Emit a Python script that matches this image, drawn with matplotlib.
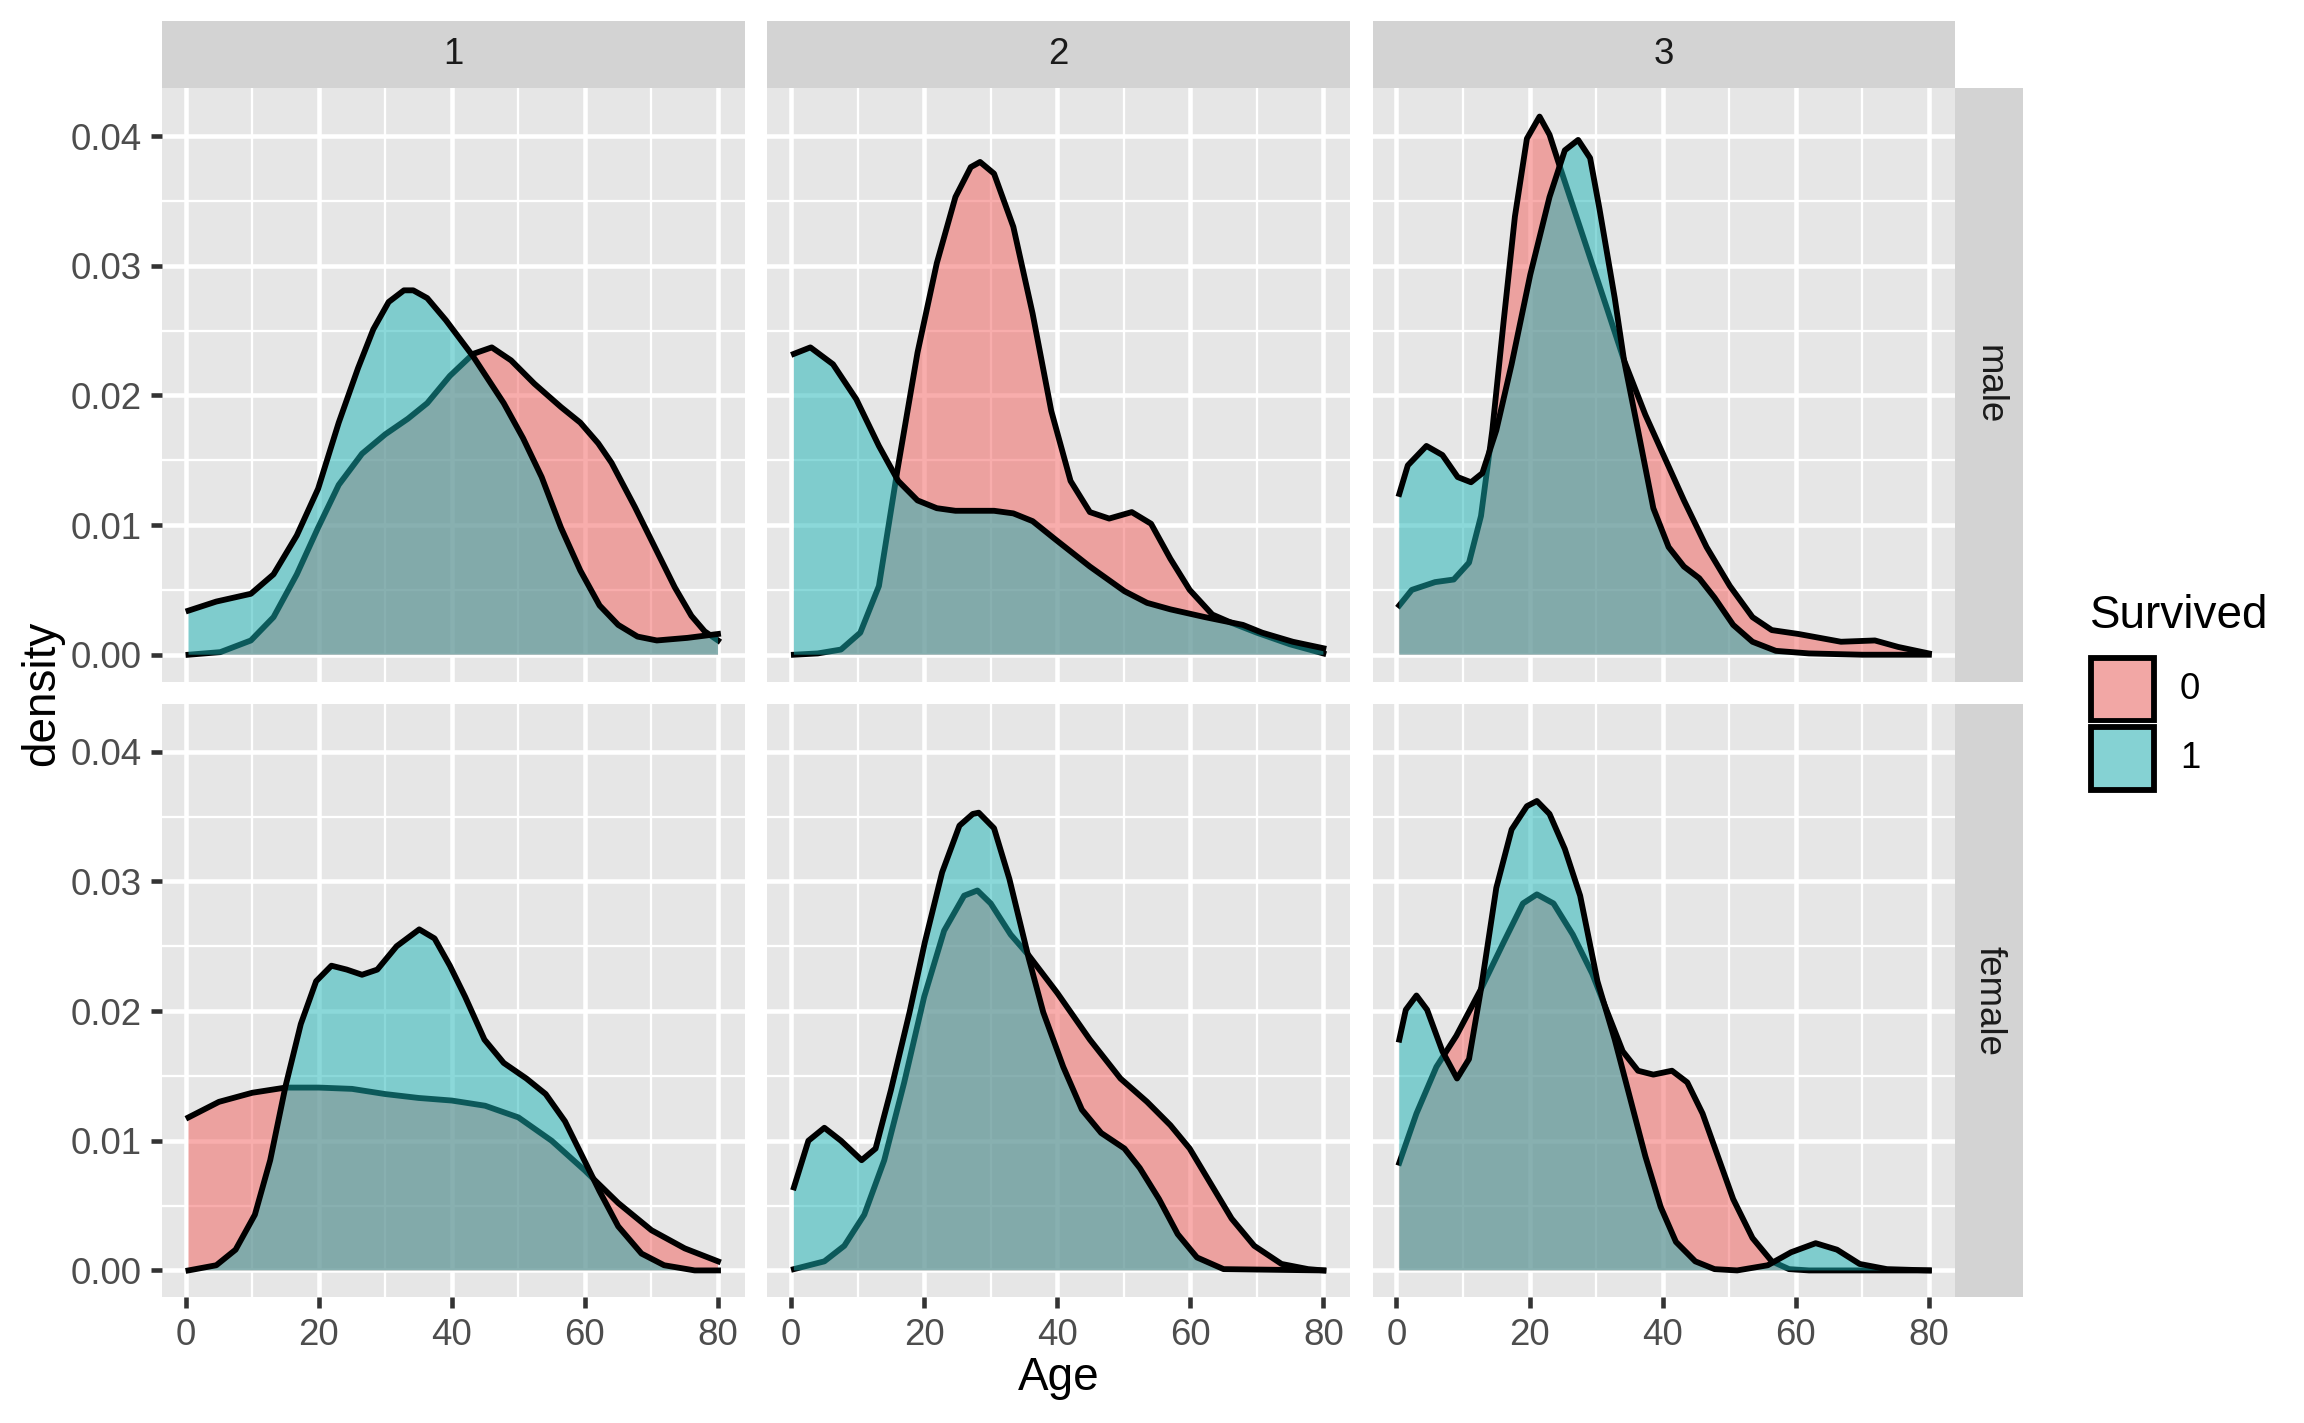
import matplotlib.pyplot as plt
from matplotlib.patches import Rectangle
from matplotlib.ticker import MultipleLocator, FormatStrFormatter

plt.rcParams['font.family'] = ['Liberation Sans', 'DejaVu Sans']

# density curves, (age, density) per class / sex / survived
age_m1_0 = [0.42, 5.2, 9.8, 13.2, 16.7, 19.9, 23, 26.5, 30, 33.4, 36.3, 39.7, 43.2, 46, 48.9, 52.4,
            56.4, 59.3, 62, 64, 67.5, 70.5, 73.5, 76, 78, 80]
den_m1_0 = [0.0000, 0.0002, 0.0011, 0.0029, 0.0062, 0.0098, 0.0131, 0.0155, 0.0170, 0.0182, 0.0194,
            0.0215, 0.0232, 0.0237, 0.0227, 0.0209, 0.0191, 0.0179, 0.0163, 0.0148, 0.0114, 0.0083,
            0.0052, 0.0030, 0.0018, 0.0011]
age_m1_1 = [0.42, 4.6, 9.8, 13.2, 16.7, 19.9, 23, 25.9, 28.2, 30.5, 32.8, 34.2, 36.3, 39.1, 43.2,
            47.8, 50.7, 53.5, 56.4, 59.3, 62.2, 65, 67.9, 70.8, 75.4, 80]
den_m1_1 = [0.0034, 0.0041, 0.0047, 0.0062, 0.0092, 0.0128, 0.0179, 0.0221, 0.0251, 0.0272, 0.0281,
            0.0281, 0.0275, 0.0258, 0.0230, 0.0194, 0.0167, 0.0137, 0.0098, 0.0065, 0.0038, 0.0023,
            0.0014, 0.0011, 0.0013, 0.0016]

age_m2_0 = [0.42, 4, 7.5, 10.4, 13.2, 16, 19, 21.9, 24.7, 27, 28.4, 30.5, 33.4, 36.3, 39.1, 42, 44.9,
            47.8, 51.2, 54.1, 57, 59.9, 63.3, 66, 70, 75, 80]
den_m2_0 = [0.0000, 0.0001, 0.0004, 0.0017, 0.0053, 0.0143, 0.0233, 0.0302, 0.0353, 0.0376, 0.0380,
            0.0371, 0.0330, 0.0263, 0.0188, 0.0134, 0.0110, 0.0105, 0.0110, 0.0101, 0.0074, 0.0050,
            0.0031, 0.0025, 0.0017, 0.0008, 0.0001]
age_m2_1 = [0.42, 2.9, 6.3, 9.8, 13.2, 16.1, 19, 21.9, 24.7, 30.5, 33.4, 36.3, 39.7, 44.9, 50.1, 53.5,
            57, 62.2, 67.9, 70.8, 75.4, 80]
den_m2_1 = [0.0232, 0.0237, 0.0224, 0.0197, 0.0161, 0.0134, 0.0119, 0.0113, 0.0111, 0.0111, 0.0109,
            0.0103, 0.0089, 0.0068, 0.0049, 0.0040, 0.0035, 0.0029, 0.0023, 0.0017, 0.0010, 0.0005]

age_m3_0 = [0.42, 2.3, 5.8, 8.6, 10.9, 12.7, 14.4, 16.1, 17.8, 19.6, 21.5, 23, 24.7, 28.2, 31.7, 34.2,
            37.4, 40.3, 43.2, 46.6, 50.1, 53.5, 56.4, 60.4, 66.8, 71.9, 75.4, 80]
den_m3_0 = [0.0038, 0.0050, 0.0056, 0.0058, 0.0071, 0.0107, 0.0173, 0.0257, 0.0338, 0.0398, 0.0415,
            0.0401, 0.0374, 0.0320, 0.0266, 0.0227, 0.0185, 0.0152, 0.0119, 0.0083, 0.0053, 0.0029,
            0.0019, 0.0016, 0.0010, 0.0011, 0.0006, 0.0001]
age_m3_1 = [0.42, 1.7, 4.5, 6.9, 9.2, 11.2, 12.9, 15, 17.3, 20.1, 23, 25.3, 27.3, 29.1, 30.5, 32.8,
            34.2, 36.3, 38.6, 40.9, 43.2, 45.5, 47.8, 50.6, 53.5, 57, 62, 70, 80]
den_m3_1 = [0.0124, 0.0146, 0.0161, 0.0154, 0.0137, 0.0133, 0.0140, 0.0173, 0.0224, 0.0293, 0.0353,
            0.0389, 0.0397, 0.0383, 0.0344, 0.0275, 0.0227, 0.0173, 0.0113, 0.0083, 0.0068, 0.0059,
            0.0044, 0.0023, 0.0010, 0.0003, 0.0001, 0.0000, 0.0000]

age_f1_0 = [0.42, 5, 10, 15, 20, 25, 30, 35, 40, 45, 50, 55, 60, 65, 70, 75, 80]
den_f1_0 = [0.0118, 0.0130, 0.0137, 0.0141, 0.0141, 0.0140, 0.0136, 0.0133, 0.0131, 0.0127, 0.0118,
            0.0100, 0.0077, 0.0052, 0.0031, 0.0017, 0.0007]
age_f1_1 = [0.42, 4.6, 7.5, 10.4, 12.7, 15, 17.3, 19.6, 21.9, 24.2, 26.5, 28.8, 31.7, 35.1, 37.4,
            39.7, 42, 44.9, 47.8, 51.2, 54.1, 57, 59.9, 62.2, 65, 68.5, 71.9, 76.5, 80]
den_f1_1 = [0.0000, 0.0004, 0.0016, 0.0043, 0.0085, 0.0142, 0.0190, 0.0223, 0.0235, 0.0232, 0.0228,
            0.0232, 0.0250, 0.0263, 0.0256, 0.0235, 0.0211, 0.0178, 0.0160, 0.0148, 0.0136, 0.0115,
            0.0085, 0.0061, 0.0034, 0.0013, 0.0004, 0.0000, 0.0000]

age_f2_0 = [0.42, 5, 8, 11, 14, 17, 20, 23, 26, 28, 30, 33, 35.7, 40, 44.9, 49.5, 53.5, 57, 59.9,
            62.7, 66.2, 69.6, 73.7, 77.7, 80]
den_f2_0 = [0.0001, 0.0007, 0.0019, 0.0043, 0.0085, 0.0145, 0.0211, 0.0262, 0.0289, 0.0293, 0.0283,
            0.0259, 0.0243, 0.0214, 0.0178, 0.0148, 0.0130, 0.0112, 0.0094, 0.0070, 0.0040, 0.0019,
            0.0005, 0.0001, 0.0000]
age_f2_1 = [0.42, 2.6, 5, 7.5, 10.6, 12.7, 15, 17.8, 20.1, 22.7, 25.3, 27.3, 28.2, 30.5, 32.8, 35.7,
            37.9, 40.9, 43.7, 46.6, 50.1, 52.4, 55.3, 58.1, 61, 65, 80]
den_f2_1 = [0.0064, 0.0100, 0.0110, 0.0100, 0.0085, 0.0094, 0.0139, 0.0199, 0.0253, 0.0307, 0.0343,
            0.0352, 0.0353, 0.0341, 0.0302, 0.0241, 0.0199, 0.0157, 0.0124, 0.0106, 0.0094, 0.0079,
            0.0055, 0.0028, 0.0010, 0.0001, 0.0000]

age_f3_0 = [0.42, 3, 6, 9, 12.7, 16.1, 19, 21.1, 23.6, 26.5, 29.4, 31.7, 34, 36.3, 38.6, 41.4, 43.7,
            46, 48.3, 50.6, 53.5, 56.4, 59, 62, 80]
den_f3_0 = [0.0083, 0.0121, 0.0157, 0.0181, 0.0217, 0.0253, 0.0283, 0.0290, 0.0283, 0.0259, 0.0229,
            0.0199, 0.0169, 0.0154, 0.0151, 0.0154, 0.0145, 0.0121, 0.0088, 0.0055, 0.0025, 0.0007,
            0.0001, 0.0000, 0.0000]
age_f3_1 = [0.42, 1.4, 3, 4.6, 6.9, 9.1, 10.9, 12.7, 15, 17.3, 19.6, 21.1, 23, 25.3, 27.6, 30.2, 32.8,
            35.1, 37.4, 39.7, 42, 44.9, 47.8, 51.2, 55.8, 59.3, 63, 66.2, 69.6, 73.7, 80]
den_f3_1 = [0.0178, 0.0201, 0.0212, 0.0201, 0.0169, 0.0148, 0.0163, 0.0217, 0.0295, 0.0340, 0.0358,
            0.0362, 0.0352, 0.0325, 0.0289, 0.0223, 0.0178, 0.0133, 0.0088, 0.0049, 0.0022, 0.0007,
            0.0001, 0.0000, 0.0004, 0.0014, 0.0021, 0.0016, 0.0005, 0.0001, 0.0000]

classes = ['1', '2', '3']
sexes = ['male', 'female']
survived = ['0', '1']
fill_colors = ['#F35D5A', '#19B3B5']

curves = {
    ('male', '1'): [(age_m1_0, den_m1_0), (age_m1_1, den_m1_1)],
    ('male', '2'): [(age_m2_0, den_m2_0), (age_m2_1, den_m2_1)],
    ('male', '3'): [(age_m3_0, den_m3_0), (age_m3_1, den_m3_1)],
    ('female', '1'): [(age_f1_0, den_f1_0), (age_f1_1, den_f1_1)],
    ('female', '2'): [(age_f2_0, den_f2_0), (age_f2_1, den_f2_1)],
    ('female', '3'): [(age_f3_0, den_f3_0), (age_f3_1, den_f3_1)],
}

# layout in pixels of the 2304x1423 canvas
W, H = 2304, 1423
col_left = [162, 767.4, 1372.8]
row_top = [88.3, 704]
pw, ph = 582.5, 593.4
strip_top, strip_right = 21, 2023
panel_bg, strip_bg = '#E6E6E6', '#D3D3D3'


def fx(x):
    return x / W


def fy(y):
    return 1 - y / H


fig = plt.figure(figsize=(W / 300, H / 300), dpi=300)

for r, sex in enumerate(sexes):
    for c, cls in enumerate(classes):
        ax = fig.add_axes([fx(col_left[c]), fy(row_top[r] + ph), pw / W, ph / H])
        ax.set_facecolor(panel_bg)
        for s in ax.spines.values():
            s.set_visible(False)
        ax.set_xlim(-3.56, 83.98)
        ax.set_ylim(-0.00208, 0.04368)
        ax.xaxis.set_major_locator(MultipleLocator(20))
        ax.xaxis.set_minor_locator(MultipleLocator(10))
        ax.yaxis.set_major_locator(MultipleLocator(0.01))
        ax.yaxis.set_minor_locator(MultipleLocator(0.005))
        ax.yaxis.set_major_formatter(FormatStrFormatter('%.2f'))
        ax.grid(which='major', color='white', linewidth=1.1)
        ax.grid(which='minor', color='white', linewidth=0.55)
        ax.set_axisbelow(True)
        ax.tick_params(which='minor', length=0)
        ax.tick_params(which='major', length=2.75, width=1.1, color='#333333',
                       labelsize=8.8, labelcolor='#4D4D4D', pad=2.2)
        if r == 0:
            ax.tick_params(axis='x', which='major', length=0, labelbottom=False)
        if c > 0:
            ax.tick_params(axis='y', which='major', length=0, labelleft=False)

        for k, (ages, dens) in enumerate(curves[(sex, cls)]):
            ax.fill_between(ages, 0, dens, facecolor=fill_colors[k], alpha=0.5,
                            linewidth=0, zorder=2 + 2 * k)
            ax.plot(ages, dens, color='black', linewidth=1.4, zorder=3 + 2 * k,
                    solid_joinstyle='round')

# facet strips
for c, cls in enumerate(classes):
    sax = fig.add_axes([fx(col_left[c]), fy(row_top[0]), pw / W, (row_top[0] - strip_top) / H])
    sax.set_facecolor(strip_bg)
    sax.set_xticks([])
    sax.set_yticks([])
    for s in sax.spines.values():
        s.set_visible(False)
    sax.text(0.5, 0.5, cls, ha='center', va='center', fontsize=8.8, color='#1A1A1A',
             transform=sax.transAxes)

right_left = col_left[2] + pw
for r, sex in enumerate(sexes):
    sax = fig.add_axes([fx(right_left), fy(row_top[r] + ph), (strip_right - right_left) / W, ph / H])
    sax.set_facecolor(strip_bg)
    sax.set_xticks([])
    sax.set_yticks([])
    for s in sax.spines.values():
        s.set_visible(False)
    sax.text(0.5, 0.5, sex, ha='center', va='center', rotation=-90, fontsize=8.8,
             color='#1A1A1A', transform=sax.transAxes)

# axis titles
fig.text(fx(1058.7), fy(1390), 'Age', ha='center', va='baseline', fontsize=11, color='black')
fig.text(fx(42), fy(692.9), 'density', ha='center', va='center', rotation=90,
         fontsize=11, color='black')

# legend
fig.text(fx(2090), fy(628), 'Survived', ha='left', va='baseline', fontsize=11, color='black')
key_x, key_y0, key_s = 2088, 655, 69
for k, lab in enumerate(survived):
    y_top = key_y0 + k * key_s
    fig.add_artist(Rectangle((fx(key_x), fy(y_top + key_s)), key_s / W, key_s / H,
                             transform=fig.transFigure, facecolor='#F2F2F2',
                             edgecolor='white', linewidth=0.5))
    inset = 3
    fig.add_artist(Rectangle((fx(key_x + inset), fy(y_top + key_s - inset)),
                             (key_s - 2 * inset) / W, (key_s - 2 * inset) / H,
                             transform=fig.transFigure, facecolor=fill_colors[k], alpha=0.5,
                             edgecolor='none'))
    fig.add_artist(Rectangle((fx(key_x + inset), fy(y_top + key_s - inset)),
                             (key_s - 2 * inset) / W, (key_s - 2 * inset) / H,
                             transform=fig.transFigure, facecolor='none',
                             edgecolor='black', linewidth=1.4))
    fig.text(fx(2180), fy(y_top + key_s / 2), lab, ha='left', va='center',
             fontsize=8.8, color='black')

fig.savefig('out.png', dpi=300, facecolor='white')
